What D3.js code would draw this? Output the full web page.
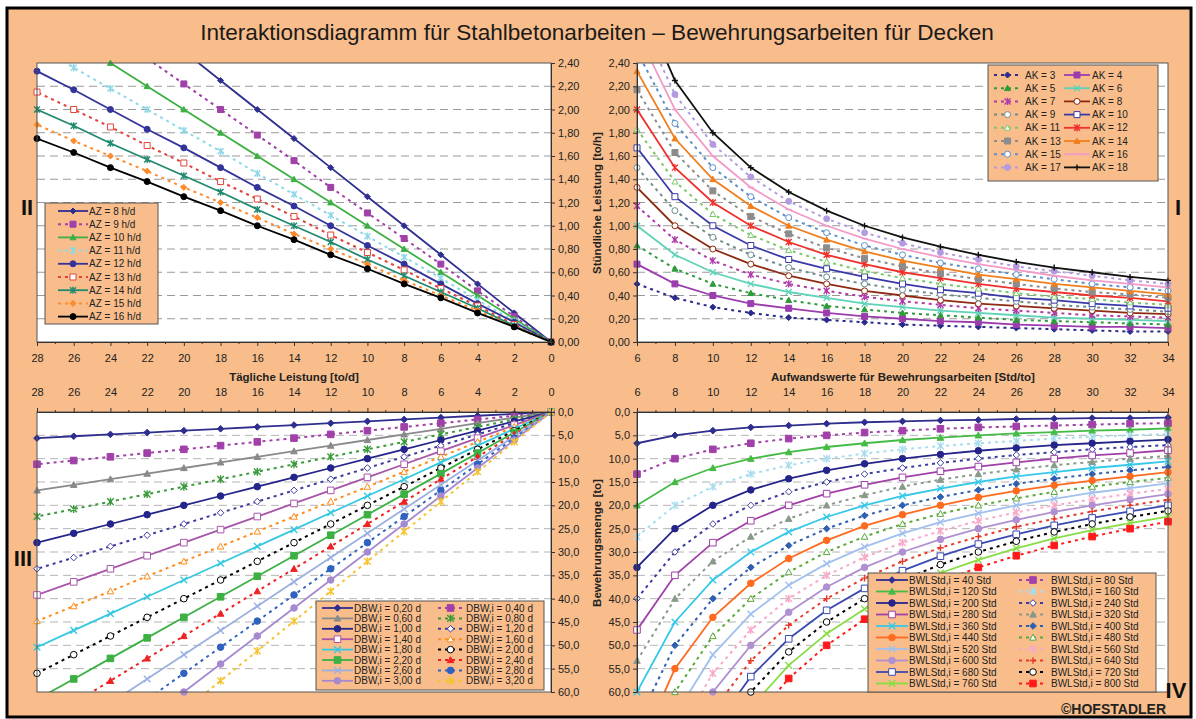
<!DOCTYPE html>
<html>
<head>
<meta charset="utf-8">
<script src="https://cdn.jsdelivr.net/npm/d3@7"></script>
<style>
  body { margin: 0; background: #fff; }
</style>
</head>
<body>
<svg id="chart" width="1196" height="719"></svg>
<script>
const FONT = '"Liberation Sans", Arial, sans-serif';
const BG = "#F8BD8B";

// ---- x values ----
const aufwand = [6, 8, 10, 12, 14, 16, 18, 20, 22, 24, 26, 28, 30, 32, 34];      // Std/to
const tagLeistung = [0, 2, 4, 6, 8, 10, 12, 14, 16, 18, 20, 22, 24, 26, 28];     // to/d

// ---- tick values ----
const leistungTicks = [0, 0.2, 0.4, 0.6, 0.8, 1.0, 1.2, 1.4, 1.6, 1.8, 2.0, 2.2, 2.4];
const mengeTicks = [0, 5, 10, 15, 20, 25, 30, 35, 40, 45, 50, 55, 60];

// ---- Quadrant I: Stündliche Leistung über Aufwandswert ----
const akLabels = ["AK = 3", "AK = 4", "AK = 5", "AK = 6", "AK = 7", "AK = 8", "AK = 9", "AK = 10",
  "AK = 11", "AK = 12", "AK = 13", "AK = 14", "AK = 15", "AK = 16", "AK = 17", "AK = 18"];
const akValues = [
  [0.50, 0.38, 0.30, 0.25, 0.21, 0.19, 0.17, 0.15, 0.14, 0.13, 0.12, 0.11, 0.10, 0.09, 0.09],
  [0.67, 0.50, 0.40, 0.33, 0.29, 0.25, 0.22, 0.20, 0.18, 0.17, 0.15, 0.14, 0.13, 0.13, 0.12],
  [0.83, 0.63, 0.50, 0.42, 0.36, 0.31, 0.28, 0.25, 0.23, 0.21, 0.19, 0.18, 0.17, 0.16, 0.15],
  [1.00, 0.75, 0.60, 0.50, 0.43, 0.38, 0.33, 0.30, 0.27, 0.25, 0.23, 0.21, 0.20, 0.19, 0.18],
  [1.17, 0.88, 0.70, 0.58, 0.50, 0.44, 0.39, 0.35, 0.32, 0.29, 0.27, 0.25, 0.23, 0.22, 0.21],
  [1.33, 1.00, 0.80, 0.67, 0.57, 0.50, 0.44, 0.40, 0.36, 0.33, 0.31, 0.29, 0.27, 0.25, 0.24],
  [1.50, 1.13, 0.90, 0.75, 0.64, 0.56, 0.50, 0.45, 0.41, 0.38, 0.35, 0.32, 0.30, 0.28, 0.26],
  [1.67, 1.25, 1.00, 0.83, 0.71, 0.63, 0.56, 0.50, 0.45, 0.42, 0.38, 0.36, 0.33, 0.31, 0.29],
  [1.83, 1.38, 1.10, 0.92, 0.79, 0.69, 0.61, 0.55, 0.50, 0.46, 0.42, 0.39, 0.37, 0.34, 0.32],
  [2.00, 1.50, 1.20, 1.00, 0.86, 0.75, 0.67, 0.60, 0.55, 0.50, 0.46, 0.43, 0.40, 0.38, 0.35],
  [2.17, 1.63, 1.30, 1.08, 0.93, 0.81, 0.72, 0.65, 0.59, 0.54, 0.50, 0.46, 0.43, 0.41, 0.38],
  [2.33, 1.75, 1.40, 1.17, 1.00, 0.88, 0.78, 0.70, 0.64, 0.58, 0.54, 0.50, 0.47, 0.44, 0.41],
  [2.50, 1.88, 1.50, 1.25, 1.07, 0.94, 0.83, 0.75, 0.68, 0.63, 0.58, 0.54, 0.50, 0.47, 0.44],
  [2.67, 2.00, 1.60, 1.33, 1.14, 1.00, 0.89, 0.80, 0.73, 0.67, 0.62, 0.57, 0.53, 0.50, 0.47],
  [2.83, 2.13, 1.70, 1.42, 1.21, 1.06, 0.94, 0.85, 0.77, 0.71, 0.65, 0.61, 0.57, 0.53, 0.50],
  [3.00, 2.25, 1.80, 1.50, 1.29, 1.13, 1.00, 0.90, 0.82, 0.75, 0.69, 0.64, 0.60, 0.56, 0.53]
];

// ---- Quadrant II: Stündliche Leistung über Tägliche Leistung ----
const azLabels = ["AZ = 8 h/d", "AZ = 9 h/d", "AZ = 10 h/d", "AZ = 11 h/d", "AZ = 12 h/d",
  "AZ = 13 h/d", "AZ = 14 h/d", "AZ = 15 h/d", "AZ = 16 h/d"];
const azValues = [
  [0, 0.25, 0.50, 0.75, 1.00, 1.25, 1.50, 1.75, 2.00, 2.25, 2.50, 2.75, 3.00, 3.25, 3.50],
  [0, 0.22, 0.44, 0.67, 0.89, 1.11, 1.33, 1.56, 1.78, 2.00, 2.22, 2.44, 2.67, 2.89, 3.11],
  [0, 0.20, 0.40, 0.60, 0.80, 1.00, 1.20, 1.40, 1.60, 1.80, 2.00, 2.20, 2.40, 2.60, 2.80],
  [0, 0.18, 0.36, 0.55, 0.73, 0.91, 1.09, 1.27, 1.45, 1.64, 1.82, 2.00, 2.18, 2.36, 2.55],
  [0, 0.17, 0.33, 0.50, 0.67, 0.83, 1.00, 1.17, 1.33, 1.50, 1.67, 1.83, 2.00, 2.17, 2.33],
  [0, 0.15, 0.31, 0.46, 0.62, 0.77, 0.92, 1.08, 1.23, 1.38, 1.54, 1.69, 1.85, 2.00, 2.15],
  [0, 0.14, 0.29, 0.43, 0.57, 0.71, 0.86, 1.00, 1.14, 1.29, 1.43, 1.57, 1.71, 1.86, 2.00],
  [0, 0.13, 0.27, 0.40, 0.53, 0.67, 0.80, 0.93, 1.07, 1.20, 1.33, 1.47, 1.60, 1.73, 1.87],
  [0, 0.13, 0.25, 0.38, 0.50, 0.63, 0.75, 0.88, 1.00, 1.13, 1.25, 1.38, 1.50, 1.63, 1.75]
];

// ---- Quadrant III: Bewehrungsmenge über Tägliche Leistung ----
const dbwLabels = ["DBW,i = 0,20 d", "DBW,i = 0,40 d", "DBW,i = 0,60 d", "DBW,i = 0,80 d",
  "DBW,i = 1,00 d", "DBW,i = 1,20 d", "DBW,i = 1,40 d", "DBW,i = 1,60 d",
  "DBW,i = 1,80 d", "DBW,i = 2,00 d", "DBW,i = 2,20 d", "DBW,i = 2,40 d",
  "DBW,i = 2,60 d", "DBW,i = 2,80 d", "DBW,i = 3,00 d", "DBW,i = 3,20 d"];
const dbwValues = [
  [0, 0.4, 0.8, 1.2, 1.6, 2.0, 2.4, 2.8, 3.2, 3.6, 4.0, 4.4, 4.8, 5.2, 5.6],
  [0, 0.8, 1.6, 2.4, 3.2, 4.0, 4.8, 5.6, 6.4, 7.2, 8.0, 8.8, 9.6, 10.4, 11.2],
  [0, 1.2, 2.4, 3.6, 4.8, 6.0, 7.2, 8.4, 9.6, 10.8, 12.0, 13.2, 14.4, 15.6, 16.8],
  [0, 1.6, 3.2, 4.8, 6.4, 8.0, 9.6, 11.2, 12.8, 14.4, 16.0, 17.6, 19.2, 20.8, 22.4],
  [0, 2, 4, 6, 8, 10, 12, 14, 16, 18, 20, 22, 24, 26, 28],
  [0, 2.4, 4.8, 7.2, 9.6, 12.0, 14.4, 16.8, 19.2, 21.6, 24.0, 26.4, 28.8, 31.2, 33.6],
  [0, 2.8, 5.6, 8.4, 11.2, 14.0, 16.8, 19.6, 22.4, 25.2, 28.0, 30.8, 33.6, 36.4, 39.2],
  [0, 3.2, 6.4, 9.6, 12.8, 16.0, 19.2, 22.4, 25.6, 28.8, 32.0, 35.2, 38.4, 41.6, 44.8],
  [0, 3.6, 7.2, 10.8, 14.4, 18.0, 21.6, 25.2, 28.8, 32.4, 36.0, 39.6, 43.2, 46.8, 50.4],
  [0, 4, 8, 12, 16, 20, 24, 28, 32, 36, 40, 44, 48, 52, 56],
  [0, 4.4, 8.8, 13.2, 17.6, 22.0, 26.4, 30.8, 35.2, 39.6, 44.0, 48.4, 52.8, 57.2, 61.6],
  [0, 4.8, 9.6, 14.4, 19.2, 24.0, 28.8, 33.6, 38.4, 43.2, 48.0, 52.8, 57.6, 62.4, 67.2],
  [0, 5.2, 10.4, 15.6, 20.8, 26.0, 31.2, 36.4, 41.6, 46.8, 52.0, 57.2, 62.4, 67.6, 72.8],
  [0, 5.6, 11.2, 16.8, 22.4, 28.0, 33.6, 39.2, 44.8, 50.4, 56.0, 61.6, 67.2, 72.8, 78.4],
  [0, 6, 12, 18, 24, 30, 36, 42, 48, 54, 60, 66, 72, 78, 84],
  [0, 6.4, 12.8, 19.2, 25.6, 32.0, 38.4, 44.8, 51.2, 57.6, 64.0, 70.4, 76.8, 83.2, 89.6]
];

// ---- Quadrant IV: Bewehrungsmenge über Aufwandswert ----
const bwlLabels = ["BWLStd,i = 40 Std", "BWLStd,i = 80 Std", "BWLStd,i = 120 Std", "BWLStd,i = 160 Std",
  "BWLStd,i = 200 Std", "BWLStd,i = 240 Std", "BWLStd,i = 280 Std", "BWLStd,i = 320 Std",
  "BWLStd,i = 360 Std", "BWLStd,i = 400 Std", "BWLStd,i = 440 Std", "BWLStd,i = 480 Std",
  "BWLStd,i = 520 Std", "BWLStd,i = 560 Std", "BWLStd,i = 600 Std", "BWLStd,i = 640 Std",
  "BWLStd,i = 680 Std", "BWLStd,i = 720 Std", "BWLStd,i = 760 Std", "BWLStd,i = 800 Std"];
const bwlValues = [
  [6.7, 5.0, 4.0, 3.3, 2.9, 2.5, 2.2, 2.0, 1.8, 1.7, 1.5, 1.4, 1.3, 1.3, 1.2],
  [13.3, 10.0, 8.0, 6.7, 5.7, 5.0, 4.4, 4.0, 3.6, 3.3, 3.1, 2.9, 2.7, 2.5, 2.4],
  [20.0, 15.0, 12.0, 10.0, 8.6, 7.5, 6.7, 6.0, 5.5, 5.0, 4.6, 4.3, 4.0, 3.8, 3.5],
  [26.7, 20.0, 16.0, 13.3, 11.4, 10.0, 8.9, 8.0, 7.3, 6.7, 6.2, 5.7, 5.3, 5.0, 4.7],
  [33.3, 25.0, 20.0, 16.7, 14.3, 12.5, 11.1, 10.0, 9.1, 8.3, 7.7, 7.1, 6.7, 6.3, 5.9],
  [40.0, 30.0, 24.0, 20.0, 17.1, 15.0, 13.3, 12.0, 10.9, 10.0, 9.2, 8.6, 8.0, 7.5, 7.1],
  [46.7, 35.0, 28.0, 23.3, 20.0, 17.5, 15.6, 14.0, 12.7, 11.7, 10.8, 10.0, 9.3, 8.8, 8.2],
  [53.3, 40.0, 32.0, 26.7, 22.9, 20.0, 17.8, 16.0, 14.5, 13.3, 12.3, 11.4, 10.7, 10.0, 9.4],
  [60.0, 45.0, 36.0, 30.0, 25.7, 22.5, 20.0, 18.0, 16.4, 15.0, 13.8, 12.9, 12.0, 11.3, 10.6],
  [66.7, 50.0, 40.0, 33.3, 28.6, 25.0, 22.2, 20.0, 18.2, 16.7, 15.4, 14.3, 13.3, 12.5, 11.8],
  [73.3, 55.0, 44.0, 36.7, 31.4, 27.5, 24.4, 22.0, 20.0, 18.3, 16.9, 15.7, 14.7, 13.8, 12.9],
  [80.0, 60.0, 48.0, 40.0, 34.3, 30.0, 26.7, 24.0, 21.8, 20.0, 18.5, 17.1, 16.0, 15.0, 14.1],
  [86.7, 65.0, 52.0, 43.3, 37.1, 32.5, 28.9, 26.0, 23.6, 21.7, 20.0, 18.6, 17.3, 16.3, 15.3],
  [93.3, 70.0, 56.0, 46.7, 40.0, 35.0, 31.1, 28.0, 25.5, 23.3, 21.5, 20.0, 18.7, 17.5, 16.5],
  [100.0, 75.0, 60.0, 50.0, 42.9, 37.5, 33.3, 30.0, 27.3, 25.0, 23.1, 21.4, 20.0, 18.8, 17.6],
  [106.7, 80.0, 64.0, 53.3, 45.7, 40.0, 35.6, 32.0, 29.1, 26.7, 24.6, 22.9, 21.3, 20.0, 18.8],
  [113.3, 85.0, 68.0, 56.7, 48.6, 42.5, 37.8, 34.0, 30.9, 28.3, 26.2, 24.3, 22.7, 21.3, 20.0],
  [120.0, 90.0, 72.0, 60.0, 51.4, 45.0, 40.0, 36.0, 32.7, 30.0, 27.7, 25.7, 24.0, 22.5, 21.2],
  [126.7, 95.0, 76.0, 63.3, 54.3, 47.5, 42.2, 38.0, 34.5, 31.7, 29.2, 27.1, 25.3, 23.8, 22.4],
  [133.3, 100.0, 80.0, 66.7, 57.1, 50.0, 44.4, 40.0, 36.4, 33.3, 30.8, 28.6, 26.7, 25.0, 23.5]
];

// ---- series styles (colour, dashed, marker, filled) ----
const akStyles = [
  ["#2B2B8C", 1, "diamond", 1], ["#9C3DAE", 0, "square", 1], ["#2E9B3A", 1, "triangle", 1], ["#5FD3B8", 0, "x", 1],
  ["#B03AA8", 1, "star", 1], ["#8E2A12", 0, "circle", 0], ["#6E8C8C", 1, "circle", 0], ["#3A3AA8", 0, "square", 0],
  ["#7BC86A", 1, "triangle", 0], ["#F0302A", 0, "star", 1], ["#8C8C8C", 1, "square", 1], ["#F07F1E", 0, "triangle", 1],
  ["#5E8FC8", 1, "circle", 0], ["#F49AC8", 0, "dash", 1], ["#B49AE0", 1, "circle", 1], ["#111111", 0, "plus", 1]
];
const azStyles = [
  ["#2F2F8F", 0, "diamond", 1], ["#A040A8", 1, "square", 1], ["#3CB043", 0, "triangle", 1], ["#8ED8E8", 1, "star", 1],
  ["#33339A", 0, "circle", 1], ["#E0443A", 1, "square", 0], ["#1F8A6E", 0, "star", 1], ["#FF8A2A", 1, "diamond", 1],
  ["#000000", 0, "circle", 1]
];
const dbwStyles = [
  ["#2E2E8E", 0, "diamond", 1], ["#A040A8", 1, "square", 1], ["#8A8A8A", 0, "triangle", 1], ["#3A9A3A", 1, "star", 1],
  ["#24248A", 0, "circle", 1], ["#3C3CA0", 1, "diamond", 0], ["#A855A8", 0, "square", 0], ["#FF8C1A", 1, "triangle", 0],
  ["#36C8E0", 0, "x", 1], ["#000000", 1, "circle", 0], ["#3CB043", 0, "square", 1], ["#EE2222", 1, "triangle", 1],
  ["#9AB0E0", 0, "x", 1], ["#2F62C0", 1, "circle", 1], ["#A58AD0", 0, "circle", 1], ["#F5C430", 1, "star", 1]
];
const bwlStyles = [
  ["#2E2E8E", 0, "diamond", 1], ["#A040A8", 1, "square", 1], ["#44BB44", 0, "triangle", 1], ["#A8DDEE", 1, "star", 1],
  ["#24248A", 0, "circle", 1], ["#3C3CA0", 1, "diamond", 0], ["#A040A8", 0, "square", 0], ["#8A9A8A", 1, "triangle", 1],
  ["#36C8E8", 0, "x", 1], ["#2F5FB0", 1, "diamond", 1], ["#FF6A1E", 0, "circle", 1], ["#5AA83A", 1, "triangle", 0],
  ["#A0C0EE", 0, "x", 1], ["#F8A8C8", 1, "star", 1], ["#B090D0", 0, "circle", 1], ["#E83A2A", 1, "plus", 1],
  ["#3A4AB0", 0, "square", 0], ["#000000", 1, "circle", 0], ["#88DD44", 0, "x", 1], ["#FF1A1A", 1, "square", 1]
];

const svg = d3.select("#chart").attr("font-family", FONT);
const defs = svg.append("defs");

// background + frame
svg.append("rect").attr("width", 1196).attr("height", 719).attr("fill", "#fff");
svg.append("rect").attr("x", 7).attr("y", 8).attr("width", 1184).attr("height", 709)
  .attr("fill", BG).attr("stroke", "#000").attr("stroke-width", 3);

svg.append("text").attr("x", 597).attr("y", 40).attr("text-anchor", "middle")
  .attr("font-size", 22.6).attr("fill", "#1a1a1a")
  .text("Interaktionsdiagramm für Stahlbetonarbeiten – Bewehrungsarbeiten für Decken");

function markerPath(type, s) {
  switch (type) {
    case "diamond": return `M0,${-s}L${s},0L0,${s}L${-s},0Z`;
    case "square": return `M${-s},${-s}H${s}V${s}H${-s}Z`;
    case "triangle": return `M0,${-s}L${s},${s * 0.8}L${-s},${s * 0.8}Z`;
    case "circle": return d3.symbol(d3.symbolCircle, Math.PI * s * s)();
    case "x": return `M${-s},${-s}L${s},${s}M${-s},${s}L${s},${-s}`;
    case "star": return `M${-s},${-s}L${s},${s}M${-s},${s}L${s},${-s}M0,${-s * 1.2}V${s * 1.2}`;
    case "plus": return `M${-s},0H${s}M0,${-s}V${s}`;
    case "dash": return `M${-s},0H${s}`;
  }
}
const strokeOnly = ["x", "star", "plus", "dash"];

function drawMarker(g, st, cx, cy, s) {
  const [c, , m, filled] = st;
  g.append("path").attr("transform", `translate(${cx},${cy})`)
    .attr("d", markerPath(m, s))
    .attr("fill", strokeOnly.includes(m) ? "none" : (filled ? c : "#fff"))
    .attr("stroke", c).attr("stroke-width", strokeOnly.includes(m) ? 1.4 : 1);
}

const fmt2 = d => d3.format(".2f")(d).replace(".", ",");
const fmt1 = d => d3.format(".1f")(d).replace(".", ",");

function styleAxis(a) {
  a.attr("font-family", FONT);
  a.selectAll("text").attr("font-size", 11).attr("fill", "#222");
  a.selectAll("line").attr("stroke", "#333");
  a.select(".domain").attr("stroke", "#333");
}

function drawPanel(p) {
  const x = d3.scaleLinear().domain(p.xDom).range([p.x0, p.x1]);
  const y = d3.scaleLinear().domain(p.yDom).range(p.yTopZero ? [p.y0, p.y1] : [p.y1, p.y0]);
  const g = svg.append("g");

  g.append("rect").attr("x", p.x0).attr("y", p.y0).attr("width", p.x1 - p.x0).attr("height", p.y1 - p.y0)
    .attr("fill", "#fff");

  // grid
  g.append("g").selectAll("line").data(p.yTicks.slice(1, -1)).join("line")
    .attr("x1", p.x0).attr("x2", p.x1).attr("y1", d => y(d)).attr("y2", d => y(d))
    .attr("stroke", p.gridColor).attr("stroke-width", 1).attr("stroke-dasharray", "8,5");

  const clipId = "clip" + p.name;
  defs.append("clipPath").attr("id", clipId).append("rect")
    .attr("x", p.x0).attr("y", p.y0).attr("width", p.x1 - p.x0).attr("height", p.y1 - p.y0);

  const line = d3.line().x(d => x(d[0])).y(d => y(d[1]));
  const yMax = p.yDom[1];
  p.values.forEach((vals, i) => {
    const st = p.styles[i];
    const pts = p.xs.map((xv, j) => [xv, vals[j]]);
    g.append("path").datum(pts).attr("d", line).attr("clip-path", `url(#${clipId})`)
      .attr("fill", "none").attr("stroke", st[0]).attr("stroke-width", st[1] ? 2 : 1.8)
      .attr("stroke-dasharray", st[1] ? "3,4" : null);
    const mg = g.append("g");
    pts.filter(d => d[1] <= yMax + 1e-9).forEach(d => drawMarker(mg, st, x(d[0]), y(d[1]), p.ms));
  });

  g.append("rect").attr("x", p.x0).attr("y", p.y0).attr("width", p.x1 - p.x0).attr("height", p.y1 - p.y0)
    .attr("fill", "none").attr("stroke", "#555").attr("stroke-width", 1);

  // axes
  const xAxis = p.xTop ? d3.axisTop(x) : d3.axisBottom(x);
  xAxis.tickValues(p.xTicks).tickSize(4).tickPadding(p.xTop ? 12 : 8).tickFormat(d3.format("d"));
  styleAxis(svg.append("g").attr("transform", `translate(0,${p.xTop ? p.y0 : p.y1})`).call(xAxis));
  // minor ticks on x
  svg.append("g").selectAll("line").data(p.xMinor).join("line")
    .attr("x1", d => x(d)).attr("x2", d => x(d))
    .attr("y1", p.xTop ? p.y0 : p.y1).attr("y2", (p.xTop ? p.y0 : p.y1) + (p.xTop ? -2 : 2))
    .attr("stroke", "#333");

  const yAxis = p.yRight ? d3.axisRight(y) : d3.axisLeft(y);
  yAxis.tickValues(p.yTicks).tickSize(4).tickPadding(3).tickFormat(p.yFmt);
  styleAxis(svg.append("g").attr("transform", `translate(${p.yRight ? p.x1 : p.x0},0)`).call(yAxis));

  // legend
  const L = p.legend;
  const lg = svg.append("g");
  lg.append("rect").attr("x", L.x).attr("y", L.y).attr("width", L.w).attr("height", L.h)
    .attr("fill", BG).attr("stroke", "#555").attr("stroke-width", 1);
  p.labels.forEach((lab, i) => {
    const col = i % L.cols, row = Math.floor(i / L.cols);
    const cy = L.row0 + row * L.rowH;
    const [sx0, sx1, tx] = L.colX[col];
    const st = p.styles[i];
    lg.append("line").attr("x1", sx0).attr("x2", sx1).attr("y1", cy).attr("y2", cy)
      .attr("stroke", st[0]).attr("stroke-width", st[1] ? 2 : 1.8)
      .attr("stroke-dasharray", st[1] ? "3,4" : null);
    drawMarker(lg, st, (sx0 + sx1) / 2, cy, p.ms);
    lg.append("text").attr("x", tx).attr("y", cy).attr("dy", "0.35em")
      .attr("font-size", 10).attr("fill", "#222").text(lab);
  });
}

const oddTag = [1, 3, 5, 7, 9, 11, 13, 15, 17, 19, 21, 23, 25, 27];
const oddAufwand = [7, 9, 11, 13, 15, 17, 19, 21, 23, 25, 27, 29, 31, 33];

drawPanel({
  name: "II", x0: 37, x1: 551, y0: 63, y1: 342, xDom: [28, 0], yDom: [0, 2.4],
  xs: tagLeistung, values: azValues, styles: azStyles, labels: azLabels,
  xTicks: tagLeistung, xMinor: oddTag, yTicks: leistungTicks, yFmt: fmt2, yRight: true, xTop: false,
  gridColor: "#9a9a9a", ms: 3,
  legend: { x: 45, y: 203, w: 113, h: 121, cols: 1, row0: 211, rowH: 13.2, colX: [[58, 88, 89]] }
});
drawPanel({
  name: "I", x0: 637, x1: 1168, y0: 63, y1: 342, xDom: [6, 34], yDom: [0, 2.4],
  xs: aufwand, values: akValues, styles: akStyles, labels: akLabels,
  xTicks: aufwand, xMinor: oddAufwand, yTicks: leistungTicks, yFmt: fmt2, yRight: false, xTop: false,
  gridColor: "#9a9a9a", ms: 3,
  legend: { x: 988, y: 65, w: 170, h: 116, cols: 2, row0: 75, rowH: 13.2,
    colX: [[994, 1021, 1025], [1064, 1090, 1092]] }
});
drawPanel({
  name: "III", x0: 37, x1: 551, y0: 412, y1: 692, xDom: [28, 0], yDom: [0, 60], yTopZero: true,
  xs: tagLeistung, values: dbwValues, styles: dbwStyles, labels: dbwLabels,
  xTicks: tagLeistung, xMinor: oddTag, yTicks: mengeTicks, yFmt: fmt1, yRight: true, xTop: true,
  gridColor: "#b5b5b5", ms: 3.3,
  legend: { x: 316, y: 601, w: 228, h: 89, cols: 2, row0: 608, rowH: 10.4,
    colX: [[322, 353, 354], [438, 463, 466]] }
});
drawPanel({
  name: "IV", x0: 637, x1: 1168, y0: 412, y1: 692, xDom: [6, 34], yDom: [0, 60], yTopZero: true,
  xs: aufwand, values: bwlValues, styles: bwlStyles, labels: bwlLabels,
  xTicks: aufwand, xMinor: oddAufwand, yTicks: mengeTicks, yFmt: fmt1, yRight: false, xTop: true,
  gridColor: "#b5b5b5", ms: 3.3,
  legend: { x: 868, y: 573, w: 288, h: 119, cols: 2, row0: 580, rowH: 11.5,
    colX: [[876, 908, 909], [1019, 1047, 1051]] }
});

// axis titles
svg.append("text").attr("x", 294).attr("y", 381).attr("text-anchor", "middle")
  .attr("font-size", 11.5).attr("font-weight", "bold").attr("fill", "#222").text("Tägliche Leistung [to/d]");
svg.append("text").attr("x", 903).attr("y", 381).attr("text-anchor", "middle")
  .attr("font-size", 11.5).attr("font-weight", "bold").attr("fill", "#222")
  .text("Aufwandswerte für Bewehrungsarbeiten [Std/to]");
svg.append("text").attr("transform", "translate(601,203) rotate(-90)").attr("text-anchor", "middle")
  .attr("font-size", 11.5).attr("font-weight", "bold").attr("fill", "#222").text("Stündliche Leistung [to/h]");
svg.append("text").attr("transform", "translate(601,543) rotate(-90)").attr("text-anchor", "middle")
  .attr("font-size", 11.5).attr("font-weight", "bold").attr("fill", "#222").text("Bewehrungsmenge [to]");

// quadrant numbers
[["II", 27, 215], ["I", 1178, 215], ["III", 23, 566], ["IV", 1176, 698]].forEach(([t, qx, qy]) => {
  svg.append("text").attr("x", qx).attr("y", qy).attr("text-anchor", "middle")
    .attr("font-size", 22).attr("font-weight", "bold").attr("fill", "#111").text(t);
});

svg.append("text").attr("x", 1166).attr("y", 714).attr("text-anchor", "end")
  .attr("font-size", 14).attr("font-weight", "bold").attr("fill", "#222").text("©HOFSTADLER");
</script>
</body>
</html>
